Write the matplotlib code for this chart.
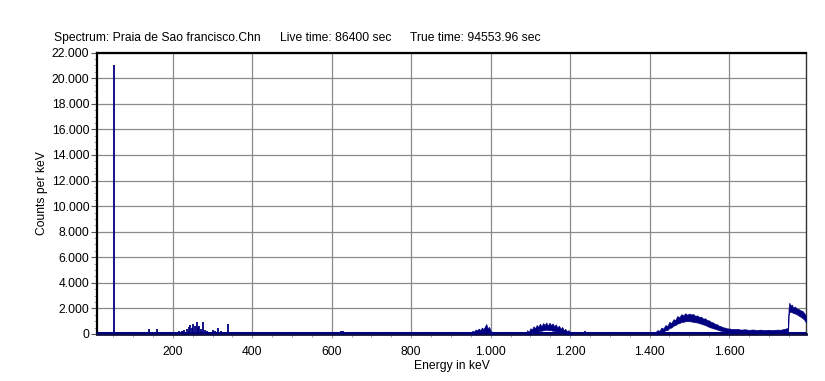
import matplotlib
matplotlib.use("Agg")
import matplotlib.pyplot as plt
from matplotlib.ticker import FuncFormatter, MultipleLocator

plt.rcParams["font.family"] = ["Liberation Sans", "DejaVu Sans"]

NAVY = "#000080"
FS = 8.7

# Line peaks: energy (keV) and counts per keV.
spike_energy = [52, 140, 160, 209, 215, 222, 228, 235, 240, 243, 247, 251, 255,
                260, 263, 266, 270, 275, 280, 285, 290, 301, 307, 314, 322, 340,
                570, 624, 628, 647, 670, 788, 1237, 1262]
spike_counts = [21000, 380, 370, 120, 200, 260, 330, 420, 560, 700, 480, 780, 600,
                940, 540, 620, 400, 940, 310, 230, 150, 310, 200, 470, 230, 780,
                150, 220, 220, 180, 130, 120, 200, 150]

# Noisy clusters, drawn as a band between a lower and an upper edge.
cluster_a_energy = [950, 954, 958, 962, 966, 970, 974, 978, 982, 986, 989, 992,
                    996, 1000, 1004, 1008]
cluster_a_hi = [0, 250, 180, 350, 280, 420, 300, 500, 380, 600, 780, 450,
                550, 250, 150, 0]
cluster_a_lo = [0, 0, 0, 50, 50, 100, 80, 150, 120, 150, 200, 100,
                100, 0, 0, 0]

cluster_b_energy = [1088, 1092, 1096, 1100, 1104, 1108, 1112, 1116, 1120, 1124,
                    1128, 1132, 1136, 1140, 1144, 1148, 1152, 1156, 1160, 1164,
                    1168, 1172, 1176, 1180, 1184, 1188, 1192, 1196, 1200, 1204]
cluster_b_hi = [0, 300, 150, 450, 350, 600, 450, 700, 550, 800,
                600, 850, 700, 900, 650, 880, 700, 820, 600, 750,
                500, 650, 400, 550, 300, 400, 200, 300, 100, 0]
cluster_b_lo = [0, 0, 0, 50, 80, 150, 150, 200, 200, 250,
                250, 300, 300, 350, 300, 300, 300, 250, 250, 200,
                200, 150, 150, 100, 80, 50, 0, 0, 0, 0]

bump_energy = [1410, 1415, 1420, 1425, 1430, 1435, 1440, 1445, 1450, 1455,
               1460, 1465, 1470, 1475, 1480, 1485, 1490, 1495, 1500, 1505,
               1510, 1515, 1520, 1525, 1530, 1535, 1540, 1545, 1550, 1555,
               1560, 1565, 1570, 1575, 1580, 1585, 1590, 1595, 1600,
               1610, 1620, 1630, 1640, 1650, 1660, 1670, 1680, 1690, 1700,
               1710, 1720, 1730, 1740,
               1746, 1749, 1750, 1752, 1755, 1758, 1762, 1766, 1770, 1775,
               1780, 1785, 1790, 1794]
bump_hi = [0, 150, 300, 250, 500, 420, 700, 620, 950, 850,
           1150, 1100, 1400, 1300, 1550, 1450, 1620, 1500, 1600, 1520,
           1560, 1420, 1450, 1330, 1350, 1200, 1220, 1080, 1060, 930,
           900, 780, 760, 640, 600, 520, 500, 440, 430,
           380, 400, 340, 370, 320, 350, 310, 340, 300, 330,
           300, 340, 330, 400,
           450, 500, 2000, 2450, 2200, 2300, 2050, 2150, 2000, 1950,
           1850, 1800, 1600, 1400]
bump_lo = [0, 0, 0, 50, 150, 150, 300, 300, 480, 500,
           650, 700, 820, 850, 950, 950, 1000, 1000, 1000, 980,
           950, 920, 900, 850, 800, 750, 700, 620, 550, 500,
           450, 400, 350, 300, 250, 220, 200, 170, 150,
           130, 120, 120, 110, 100, 100, 100, 100, 100, 100,
           110, 120, 130, 150,
           200, 220, 1500, 1700, 1750, 1700, 1650, 1600, 1550, 1450,
           1350, 1250, 1100, 900]

# Continuum along the bottom of the spectrum.
base_energy = [9, 1794]
base_counts = [40, 40]

x_min, x_max = 9, 1794
y_max = 22000

fig = plt.figure(figsize=(8.25, 3.81), dpi=100)
ax = fig.add_axes([0.1176, 0.1234, 0.8594, 0.7383])

ax.plot(base_energy, base_counts, color=NAVY, lw=2.2, zorder=3)
ax.vlines(spike_energy, 0, spike_counts, color=NAVY, lw=1.3, zorder=3)
for e, lo, hi in [(cluster_a_energy, cluster_a_lo, cluster_a_hi),
                  (cluster_b_energy, cluster_b_lo, cluster_b_hi),
                  (bump_energy, bump_lo, bump_hi)]:
    ax.fill_between(e, lo, hi, color=NAVY, lw=0.5, edgecolor=NAVY, zorder=3)

ax.set_xlim(x_min, x_max)
ax.set_ylim(0, y_max)

ax.xaxis.set_major_locator(MultipleLocator(200))
ax.xaxis.set_minor_locator(MultipleLocator(50))
ax.yaxis.set_major_locator(MultipleLocator(2000))
ax.yaxis.set_minor_locator(MultipleLocator(500))

dot_thousands = FuncFormatter(lambda v, pos: f"{v:,.0f}".replace(",", "."))
ax.xaxis.set_major_formatter(dot_thousands)
ax.yaxis.set_major_formatter(dot_thousands)

ax.grid(True, which="major", color="#8a8a8a", lw=0.9, zorder=1)
ax.set_axisbelow(True)

ax.tick_params(axis="both", which="major", labelsize=FS, color="#555555",
               length=4, width=0.8, pad=1.5)
ax.tick_params(axis="both", which="minor", color="#999999", length=2.5, width=0.6)
ax.tick_params(axis="x", which="major", color="#999999", length=3, pad=6)

for side in ["left", "top"]:
    ax.spines[side].set_linewidth(1.6)
    ax.spines[side].set_color("black")
ax.spines["bottom"].set_linewidth(2.0)
ax.spines["bottom"].set_color("#101040")
ax.spines["right"].set_linewidth(1.0)
ax.spines["right"].set_color("#333333")

ax.set_xlabel("Energy in keV", fontsize=FS, labelpad=1)
ax.set_ylabel("Counts per keV", fontsize=FS, labelpad=3)

fig.text(54 / 825, 1 - 38 / 381, "Spectrum: Praia de Sao francisco.Chn",
         fontsize=FS, va="center", ha="left")
fig.text(280 / 825, 1 - 38 / 381, "Live time: 86400 sec",
         fontsize=FS, va="center", ha="left")
fig.text(410 / 825, 1 - 38 / 381, "True time: 94553.96 sec",
         fontsize=FS, va="center", ha="left")

fig.savefig("out.png", dpi=100)
